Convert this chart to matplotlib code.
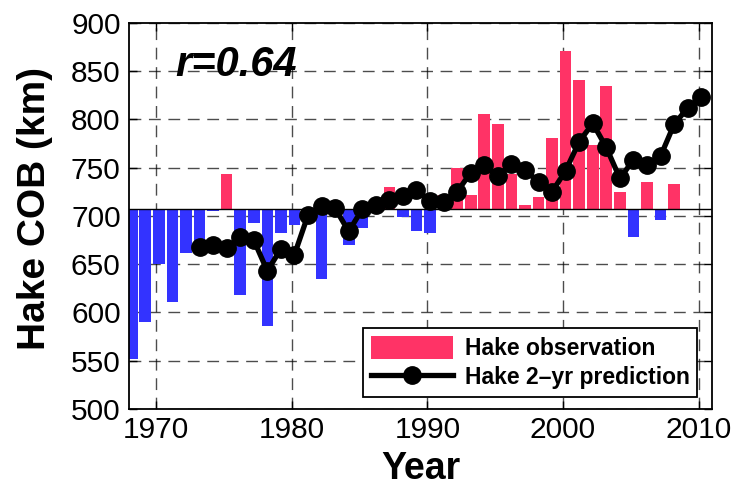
import numpy as np
import matplotlib
matplotlib.use("Agg")
import matplotlib.pyplot as plt
from matplotlib.patches import Patch
from matplotlib.lines import Line2D

plt.rcParams['font.family'] = ['Liberation Sans', 'DejaVu Sans']

# hake centre of biomass, observed (1968-2008) and 2-yr prediction (1973-2010)
obs_years = np.arange(1968, 2009)
obs_cob = [552, 590, 650, 611, 662, 664, 705, 743, 618, 693,
           586, 682, 691, 702, 635, 701, 670, 688, 709, 730,
           699, 684, 682, 722, 750, 722, 806, 795, 744, 711,
           720, 781, 871, 841, 774, 835, 725, 678, 735, 696, 733]
pred_years = np.arange(1973, 2011)
pred_cob = [668, 670, 667, 678, 675, 643, 666, 660, 701, 710,
            708, 684, 707, 711, 717, 721, 727, 716, 714, 725,
            745, 753, 741, 754, 748, 735, 725, 747, 777, 796,
            771, 739, 758, 753, 762, 795, 812, 823]
base_cob = 707.5
r_value = 0.64

red = '#FF3366'
blue = '#3333FF'
shift = 0.2  # mid-year placement

fig = plt.figure(figsize=(7.45, 4.88), dpi=100)
ax = fig.add_axes([0.1732, 0.1619, 0.7826, 0.791])

obs = np.array(obs_cob, dtype=float)
colors = [red if v >= base_cob else blue for v in obs]
ax.bar(obs_years + shift, obs - base_cob, bottom=base_cob, width=0.86,
       color=colors, edgecolor='none', zorder=2)
ax.axhline(base_cob, color='black', lw=1.0, zorder=3)
ax.plot(pred_years + shift, pred_cob, '-o', color='black', lw=3.8,
        markersize=12.5, zorder=4)

ax.set_xlim(1968, 2011)
ax.set_ylim(500, 900)
ax.set_xticks([1970, 1980, 1990, 2000, 2010])
ax.set_yticks(np.arange(500, 901, 50))
ax.tick_params(direction='in', length=6, width=1, labelsize=21.5, pad=6,
               top=True, right=True)
ax.tick_params(axis='x', pad=5)
ax.grid(True, color='black', ls=(0, (8.5, 5.5)), lw=1.0, alpha=0.7, zorder=0)
ax.set_axisbelow(True)
for s in ax.spines.values():
    s.set_linewidth(1.3)

ax.set_xlabel('Year', fontsize=27, fontweight='bold')
ax.xaxis.set_label_coords(0.5, -0.108)
ax.set_ylabel('Hake COB (km)', fontsize=28, fontweight='bold')
ax.yaxis.set_label_coords(-0.13, 0.52)

ax.text(1971.4, 845, 'r=%.2f' % r_value, fontsize=30, fontweight='bold',
        fontstyle='italic', va='baseline', ha='left', zorder=5)

handles = [Patch(facecolor=red, edgecolor='none'),
           Line2D([], [], color='black', lw=3.8, marker='o', markersize=12.5)]
leg = ax.legend(handles, ['Hake observation', 'Hake 2\u2013yr prediction'],
                loc='lower right', bbox_to_anchor=(0.975, 0.03),
                prop={'size': 16.5, 'weight': 'bold'}, fancybox=False,
                framealpha=1, edgecolor='black', handlelength=3.6,
                handleheight=1.2, borderpad=0.35, labelspacing=0.2,
                handletextpad=0.5, borderaxespad=0)
leg.get_frame().set_linewidth(1.3)

fig.savefig('out.png', dpi=100)
